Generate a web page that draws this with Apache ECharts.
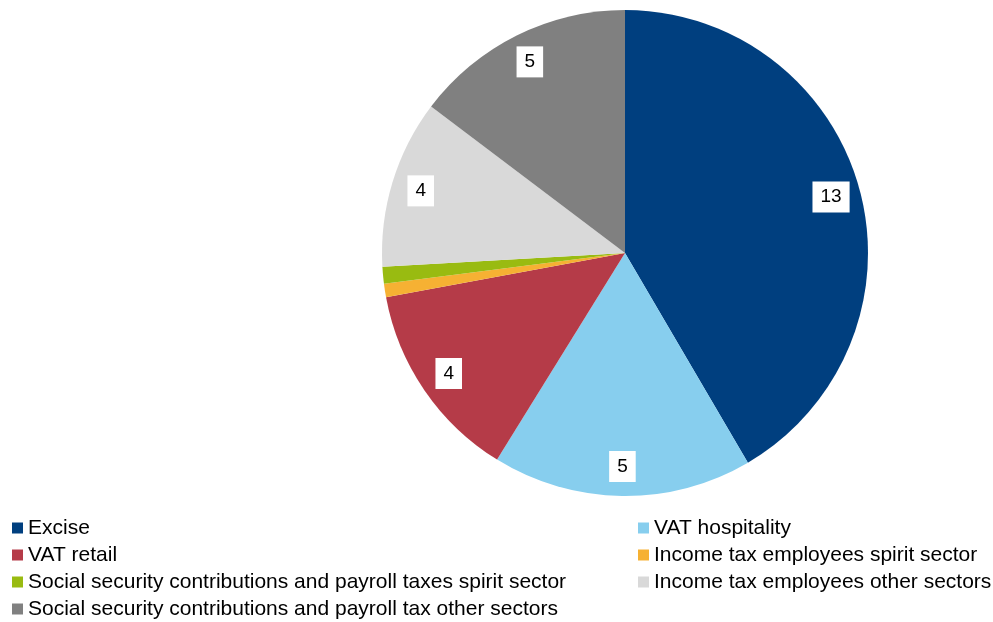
<!DOCTYPE html>
<html>
<head>
<meta charset="utf-8">
<script src="https://cdn.jsdelivr.net/npm/echarts@6/dist/echarts.min.js"></script>
<style>html,body{margin:0;padding:0;background:#fff}#c{width:993px;height:622px}</style>
</head>
<body>
<div id="c"></div>
<script>
const categories = [
  'Excise',
  'VAT hospitality',
  'VAT retail',
  'Income tax employees spirit sector',
  'Social security contributions and payroll taxes spirit sector',
  'Income tax employees other sectors',
  'Social security contributions and payroll tax other sectors'
];
const values = [13.0, 5.4, 4.15, 0.28, 0.35, 3.5, 4.6];
const colors = ['#003F7F', '#87CEEE', '#B53B48', '#F6B133', '#99BB11', '#D9D9D9', '#808080'];
const leftLegend = [0, 2, 4, 6];
const rightLegend = [1, 3, 5];

const FONT = '"Liberation Sans", Arial, sans-serif';
const chart = echarts.init(document.getElementById('c'), null, {renderer: 'canvas'});
const pieData = categories.map((n, i) => ({name: n, value: values[i], itemStyle: {color: colors[i]}}));
const labelData = categories.map((n, i) => ({name: n, value: values[i], label: {show: values[i] >= 0.5}}));
const legendCommon = {
  orient: 'vertical', icon: 'rect', itemWidth: 11, itemHeight: 11, itemGap: 3,
  selectedMode: false, height: 130, padding: 0,
  textStyle: {fontFamily: FONT, fontSize: 21, color: '#000', lineHeight: 24}
};
chart.setOption({
  animation: false,
  color: colors,
  legend: [
    Object.assign({left: 12, top: 516, data: leftLegend.map(i => categories[i])}, legendCommon),
    Object.assign({left: 638, top: 516, data: rightLegend.map(i => categories[i])}, legendCommon)
  ],
  series: [
    {
      type: 'pie', center: [625, 253], radius: [0, 243], startAngle: 90, clockwise: true,
      silent: true, label: {show: false}, labelLine: {show: false},
      itemStyle: {borderWidth: 0}, data: pieData
    },
    {
      type: 'pie', center: [625, 253], radius: [178, 243], startAngle: 90, clockwise: true,
      silent: true, itemStyle: {color: 'rgba(0,0,0,0)', borderWidth: 0},
      labelLine: {show: false},
      label: {
        position: 'inside', fontFamily: FONT, fontSize: 19, color: '#000',
        backgroundColor: '#fff', padding: [6, 8],
        formatter: p => String(Math.round(p.value))
      },
      data: labelData
    }
  ]
});
</script>
</body>
</html>
